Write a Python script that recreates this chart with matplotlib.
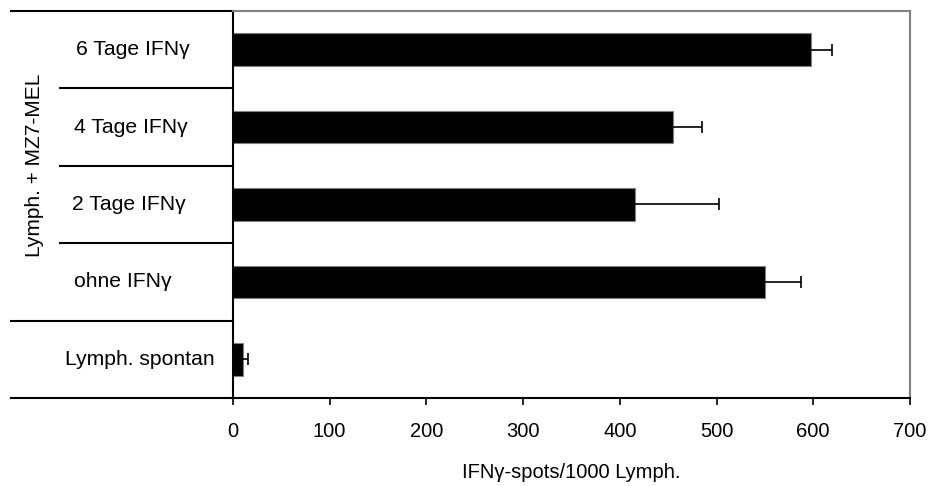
import numpy as np
import matplotlib.pyplot as plt
import matplotlib.transforms as mtransforms

plt.rcParams['font.family'] = ['Liberation Sans', 'DejaVu Sans']

# groups from top to bottom
labels = ['6 Tage IFN\u03b3', '4 Tage IFN\u03b3', '2 Tage IFN\u03b3', 'ohne IFN\u03b3', 'Lymph. spontan']
spots = [598, 455, 416, 550, 10]
spots_err = [21, 30, 87, 37, 6]
xticks = [0, 100, 200, 300, 400, 500, 600, 700]

fig = plt.figure(figsize=(9.33, 4.86), dpi=100)
ax = fig.add_axes([0.2497, 0.1811, 0.7256, 0.7963])

ypos = np.arange(len(labels))[::-1]
ax.barh(ypos, spots, height=0.42, color='black', edgecolor='#808080', linewidth=0.8,
        xerr=spots_err, error_kw=dict(ecolor='black', elinewidth=1.2, capsize=4.5, capthick=1.2))

ax.set_xlim(0, 700)
ax.set_ylim(-0.5, len(labels) - 0.5)
ax.set_xticks(xticks)
ax.set_xticklabels([str(v) for v in xticks], fontsize=14.5)
ax.tick_params(axis='x', direction='out', length=5, width=1.2, pad=12)
ax.set_yticks([])

for side in ('top', 'right'):
    ax.spines[side].set_color('#808080')
    ax.spines[side].set_linewidth(1.5)
for side in ('left', 'bottom'):
    ax.spines[side].set_color('black')
    ax.spines[side].set_linewidth(1.5)

ax.set_xlabel('IFN\u03b3-spots/1000 Lymph.', fontsize=14.5, labelpad=16)

# category box lines left of the axis
trans = mtransforms.blended_transform_factory(ax.transAxes, ax.transData)
outer = -0.328
inner = -0.2555
for y, x0 in [(4.5, outer), (3.5, inner), (2.5, inner), (1.5, inner), (0.5, outer), (-0.5, outer)]:
    ax.plot([x0, 0], [y, y], color='black', lw=1.5, transform=trans, clip_on=False)

text_x = [-0.232, -0.235, -0.238, -0.235, -0.248]
for x, y, lab in zip(text_x, ypos, labels):
    ax.text(x, y, lab, transform=trans, ha='left', va='center', fontsize=15.2)

ax.text(-0.293, 2.5, 'Lymph. + MZ7-MEL', transform=trans, rotation=90,
        ha='center', va='center', fontsize=15)

fig.savefig('out.png', dpi=100)
